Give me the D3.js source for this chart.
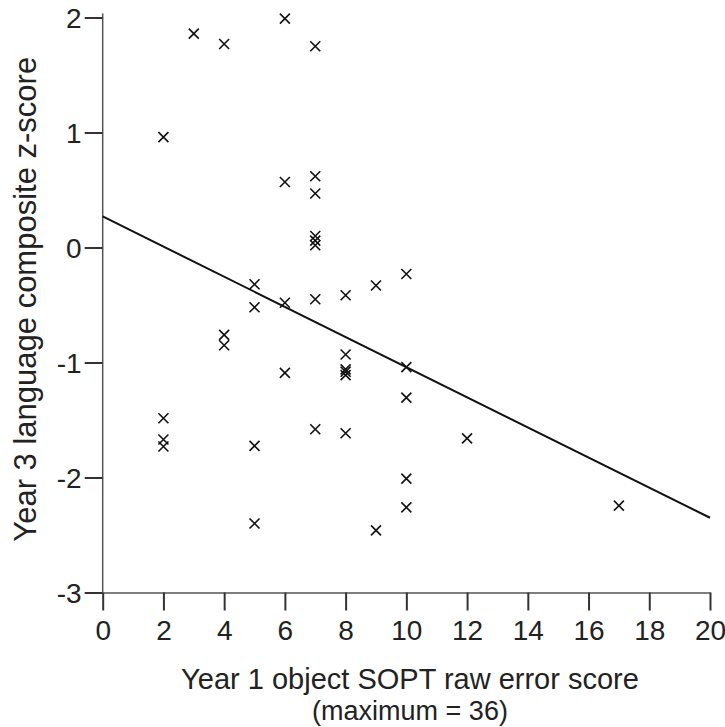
<!DOCTYPE html>
<html>
<head>
<meta charset="utf-8">
<script src="https://cdn.jsdelivr.net/npm/d3@7"></script>
<style>
  body { margin: 0; background: #fff; }
  text { font-family: "Liberation Sans", Arial, sans-serif; fill: #222; }
</style>
</head>
<body>
<script>
var width = 725, height = 727;

// SOPT raw error score (x) and Year 3 language z-score (y)
var errorScores = [3, 4, 6, 7, 2, 6, 7, 7, 7, 7, 7,
    5, 5, 6, 7, 8, 9, 10, 4, 4, 8,
    6, 8, 8, 8, 10, 10, 2, 2, 2, 5, 7, 8,
    10, 10, 5, 9, 12, 17];
var zScores = [1.86, 1.77, 1.99, 1.75, 0.96, 0.57, 0.62, 0.47, 0.1, 0.06, 0.02,
    -0.32, -0.52, -0.48, -0.45, -0.415, -0.33, -0.23, -0.76, -0.85, -0.93,
    -1.09, -1.06, -1.08, -1.11, -1.04, -1.305, -1.485, -1.67, -1.73, -1.725, -1.58, -1.615,
    -2.01, -2.26, -2.4, -2.46, -1.66, -2.245];

// fitted line end points
var fitX = [0, 20];
var fitY = [0.27, -2.35];

var xTicks = [0, 2, 4, 6, 8, 10, 12, 14, 16, 18, 20];
var yTicks = [-3, -2, -1, 0, 1, 2];

var svg = d3.select("body").append("svg")
    .attr("width", width)
    .attr("height", height);

var x = d3.scaleLinear().domain([0, 20]).range([102.7, 710]);
var y = d3.scaleLinear().domain([-3, 2]).range([592.5, 17.5]);

var yAxis = svg.append("g")
    .attr("transform", "translate(" + x(0) + ",0)")
    .call(d3.axisLeft(y).tickValues(yTicks).tickSize(18).tickSizeOuter(0)
        .tickPadding(3).tickFormat(function (d) { return String(d); }));

var xAxis = svg.append("g")
    .attr("transform", "translate(0," + y(-3) + ")")
    .call(d3.axisBottom(x).tickValues(xTicks).tickSize(18).tickSizeOuter(0)
        .tickPadding(10).tickFormat(function (d) { return String(d); }));

svg.selectAll(".domain").attr("stroke", "#555").attr("stroke-width", 1.5);
svg.selectAll(".tick line").attr("stroke", "#333").attr("stroke-width", 2);
svg.selectAll(".tick text")
    .attr("fill", "#222")
    .style("font-size", "28px")
    .style("font-family", "\"Liberation Sans\", Arial, sans-serif");
yAxis.selectAll(".tick text").attr("dy", "0.36em");

// extend y axis line slightly above top tick, as in original
yAxis.select(".domain").attr("d", "M0," + (y(2) - 4) + "V" + y(-3));

// regression line
svg.append("line")
    .attr("x1", x(fitX[0])).attr("y1", y(fitY[0]))
    .attr("x2", x(fitX[1])).attr("y2", y(fitY[1]))
    .attr("stroke", "#111")
    .attr("stroke-width", 2);

// cross markers
var s = 5;
svg.append("g")
    .selectAll("path")
    .data(d3.range(errorScores.length))
    .enter().append("path")
    .attr("d", function (i) {
        var cx = x(errorScores[i]), cy = y(zScores[i]);
        return "M" + (cx - s) + "," + (cy - s) + "L" + (cx + s) + "," + (cy + s) +
            "M" + (cx - s) + "," + (cy + s) + "L" + (cx + s) + "," + (cy - s);
    })
    .attr("fill", "none")
    .attr("stroke", "#111")
    .attr("stroke-width", 1.6);

// axis titles
svg.append("text")
    .attr("x", 410).attr("y", 689)
    .attr("text-anchor", "middle")
    .style("font-size", "29px")
    .text("Year 1 object SOPT raw error score");
svg.append("text")
    .attr("x", 410).attr("y", 720)
    .attr("text-anchor", "middle")
    .style("font-size", "27px")
    .text("(maximum = 36)");

svg.append("text")
    .attr("transform", "translate(36," + y(-0.45) + ") rotate(-90)")
    .attr("text-anchor", "middle")
    .style("font-size", "31px")
    .text("Year 3 language composite z-score");
</script>
</body>
</html>
